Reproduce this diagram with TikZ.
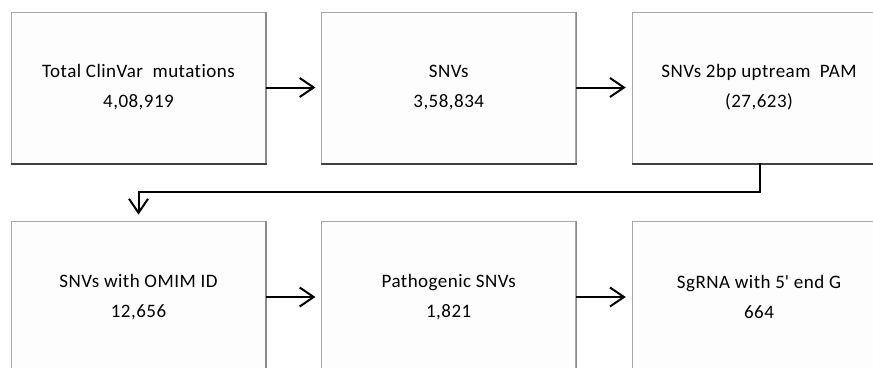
\documentclass[tikz,border=0pt]{standalone}
\usepackage{fontspec}
\setmainfont{Carlito}[Ligatures={NoCommon}, LetterSpace=2.5]
\usetikzlibrary{arrows.meta}
\definecolor{boxfill}{HTML}{FDFDFD}
\definecolor{boxline}{HTML}{A8A8A8}
\definecolor{shadowdark}{HTML}{404040}
\definecolor{shadowgray}{HTML}{8C8C8C}
\tikzset{
  x=1pt, y=-1pt,
  stagebox/.style={draw=boxline, line width=0.8pt, fill=boxfill,
    minimum width=253.7pt, minimum height=151pt, inner sep=0pt,
    align=center, font=\fontsize{19}{30}\selectfont},
  flow/.style={line width=2pt, -{Straight Barb[length=14pt,width=19pt,line width=2pt]}, shorten >=6pt},
}
\begin{document}
\begin{tikzpicture}
\useasboundingbox (0,0) rectangle (873,367);
\clip (0,0) rectangle (873,367);
% top row
\node[stagebox] (a) at (138.5,87.5) {Total ClinVar\ \ mutations\\4,08,919};
\node[stagebox] (b) at (448.7,87.5) {SNVs\\3,58,834};
\node[stagebox] (c) at (759,87.5) {SNVs 2bp uptream\ \ PAM\\(27,623)};
% bottom row
\node[stagebox, minimum height=152pt] (d) at (138.5,297) {SNVs with OMIM ID\\12,656};
\node[stagebox, minimum height=152pt] (e) at (448.7,297) {Pathogenic SNVs\\1,821};
\node[stagebox, minimum height=152pt] (f) at (759,297) {SgRNA with 5\textquotesingle\ end G\\664};
% shadows
\foreach \n in {a,b,c}{
  \draw[shadowgray, line width=1.6pt] ([xshift=0.5pt]\n.north east) -- ([xshift=0.5pt]\n.south east);
  \draw[shadowdark, line width=1.8pt] ([yshift=-0.6pt]\n.south west) -- ([yshift=-0.6pt,xshift=1.3pt]\n.south east);
}
\foreach \n in {d,e,f}{
  \draw[shadowgray, line width=1.6pt] ([xshift=0.5pt]\n.north east) -- ([xshift=0.5pt]\n.south east);
}
% connectors
\draw[flow] (a.east) -- (b.west);
\draw[flow] (b.east) -- (c.west);
\coordinate (turn) at (0,191.7);
\draw[flow] ([xshift=1pt]c.south) |- (turn -| d.north) -- (d.north);
\draw[flow] (d.east) -- (e.west);
\draw[flow] (e.east) -- (f.west);
\end{tikzpicture}
\end{document}
